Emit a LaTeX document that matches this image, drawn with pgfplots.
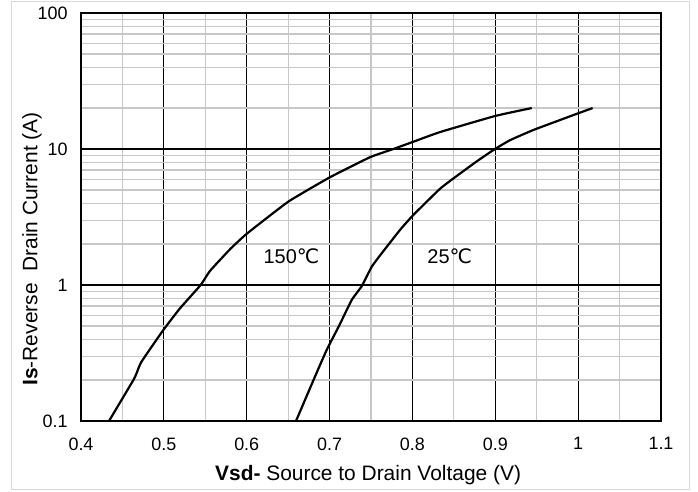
\documentclass[border=0pt]{standalone}
\usepackage{pgfplots}
\pgfplotsset{compat=1.18}
\usepackage{fontspec}
\setmainfont{Liberation Sans}
\newfontfamily\dejavu{DejaVu Sans}
\begin{document}
\begin{tikzpicture}[x=1bp,y=1bp]
\path[use as bounding box] (-81,-71) rectangle (617,421);
\draw[gray!30, line width=1bp] (-69,-69) rectangle (608,419);
\begin{axis}[
  at={(0,0)}, anchor=south west,
  scale only axis, width=580bp, height=408bp,
  xmin=0.4, xmax=1.1, ymin=0.1, ymax=100,
  ymode=log,
  xtick={0.4,0.5,...,1.1},
  xticklabels={0.4,0.5,0.6,0.7,0.8,0.9,1,1.1},
  minor xtick={0.45,0.55,...,1.05},
  ytick={0.1,1,10,100},
  yticklabels={0.1,1,10,100},
  grid=both,
  major grid style={black, line width=1.1bp},
  minor grid style={black!22, line width=1.2bp},
  axis line style={black, line width=2.4bp},
  tick style={draw=none},
  tick label style={font=\fontsize{18}{21}\selectfont},
  xticklabel style={yshift=-13bp},
  yticklabel style={xshift=-10bp},
  xlabel={\textbf{Vsd-} Source to Drain Voltage (V)},
  ylabel={\textbf{Is}-Reverse\ \ Drain Current (A)},
  label style={font=\fontsize{21}{25}\selectfont},
  xlabel style={at={(axis description cs:0.495,-0.132)}, anchor=center},
  ylabel style={at={(axis description cs:-0.0845,0.4216)}, anchor=center},
]
\addplot[black, line width=2.2bp, smooth, tension=0.25] coordinates {
(0.4338,0.1) (0.4632,0.2) (0.467,0.224) (0.473,0.273) (0.4994,0.467) (0.5195,0.674)
(0.5444,1.0) (0.5557,1.27) (0.5798,1.83) (0.6,2.38) (0.6502,4.1) (0.7005,6.2)
(0.7488,8.7) (0.777,10) (0.801,11.3) (0.833,13.3) (0.9,17.5) (0.944,20)
};
\addplot[black, line width=2.2bp, smooth, tension=0.25] coordinates {
(0.6595,0.1) (0.6806,0.2) (0.6965,0.333) (0.7114,0.5) (0.7267,0.776) (0.7388,0.98)
(0.7508,1.36) (0.7609,1.65) (0.785,2.54) (0.801,3.27) (0.8333,5.1)
(0.8514,6.2) (0.8775,8.1) (0.8996,10) (0.9177,11.6) (0.946,13.8) (1.0,18.3) (1.0175,20)
};
\node[font=\fontsize{20}{24}\selectfont] at (axis cs:0.654,1.63) {150{\dejavu ℃}};
\node[font=\fontsize{20}{24}\selectfont] at (axis cs:0.845,1.63) {25{\dejavu ℃}};
\end{axis}
\end{tikzpicture}
\end{document}
